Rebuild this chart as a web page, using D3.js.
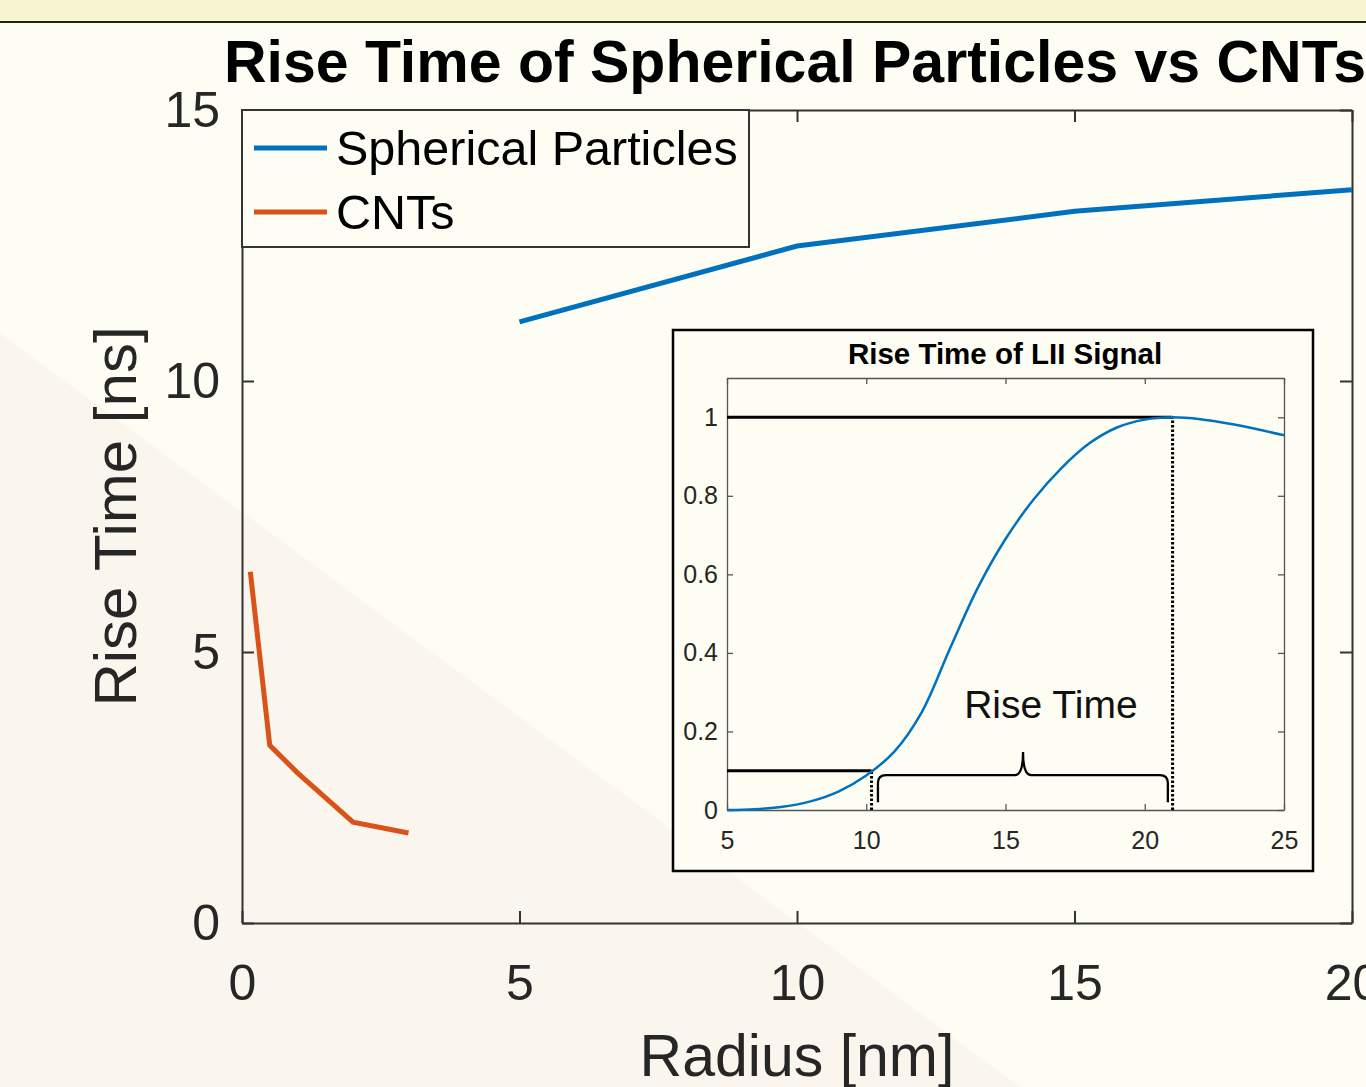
<!DOCTYPE html>
<html><head><meta charset="utf-8">
<script src="https://cdn.jsdelivr.net/npm/d3@7"></script>
<style>
body{margin:0;background:#fdfdf3;overflow:hidden;}
svg{display:block;font-family:"Liberation Sans",Arial,Helvetica,sans-serif;}
</style>
</head><body>
<svg id="c" width="1366" height="1087"></svg>
<script>
// ---- data ----
const spRadius = [5, 10, 15, 20];
const spRise   = [11.09, 12.49, 13.13, 13.53];
const cntRadius = [0.15, 0.5, 1, 2, 3];
const cntRise   = [6.48, 3.28, 2.77, 1.86, 1.66];
const mainXTicks = [0, 5, 10, 15, 20];
const mainYTicks = [0, 5, 10, 15];
const seriesNames = ["Spherical Particles", "CNTs"];

const insetTime   = [5, 6, 7, 8, 9, 10, 11, 12, 13, 14, 15, 16, 17, 18, 19, 20, 21, 22, 23, 24, 25];
const insetSignal = [0, 0.002, 0.008, 0.022, 0.047, 0.088, 0.148, 0.25, 0.41, 0.565, 0.69, 0.79, 0.87, 0.933, 0.974, 0.994, 1.0, 0.995, 0.984, 0.97, 0.954];
const insetXTicks = [5, 10, 15, 20, 25];
const insetYTicks = [0, 0.2, 0.4, 0.6, 0.8, 1];
const riseStart = [10.19, 0.1];   // time, level at 10%
const risePeak  = [21.0, 1.0];    // time, level at peak
const braceX = [10.42, 15.63, 20.83]; // left, tip, right
const braceY = [0.02, 0.089, 0.148];  // ends, bar, tip
const riseLabelPos = [16.63, 0.234];

const svg = d3.select("#c");

// ---- background ----
svg.append("rect").attr("width",1366).attr("height",1087).attr("fill","#fdfdf3");
svg.append("path").attr("d","M0,333 L1020,1087 L0,1087 Z").attr("fill","#faf6ee");
svg.append("rect").attr("width",1366).attr("height",21).attr("fill","#f8f3d1");
svg.append("line").attr("x1",0).attr("x2",1366).attr("y1",22).attr("y2",22).attr("stroke","#222").attr("stroke-width",2);

// ---- main plot ----
const L=242, R=1352, T=110, B=923;
const x = d3.scaleLinear().domain([0,20]).range([L,R]);
const y = d3.scaleLinear().domain([0,15]).range([B,T]);
const axCol = "#333";

function styleAxis(g, fs){
  g.selectAll(".domain").attr("stroke",axCol).attr("stroke-width",2);
  g.selectAll(".tick line").attr("stroke",axCol).attr("stroke-width",2);
  g.selectAll("text").attr("fill","#262626").attr("font-size",fs).attr("font-family","Liberation Sans, Arial, sans-serif");
}
let g;
g = svg.append("g").attr("transform",`translate(0,${B})`)
  .call(d3.axisBottom(x).tickValues(mainXTicks).tickSize(-12).tickSizeOuter(0).tickPadding(41));
styleAxis(g,50);
g = svg.append("g").attr("transform",`translate(0,${T})`)
  .call(d3.axisTop(x).tickValues(mainXTicks).tickSize(-12).tickSizeOuter(0).tickFormat(""));
styleAxis(g,50);
g = svg.append("g").attr("transform",`translate(${L},0)`)
  .call(d3.axisLeft(y).tickValues(mainYTicks).tickSize(-12).tickSizeOuter(0).tickPadding(22));
styleAxis(g,50);
g = svg.append("g").attr("transform",`translate(${R},0)`)
  .call(d3.axisRight(y).tickValues(mainYTicks).tickSize(-12).tickSizeOuter(0).tickFormat(""));
styleAxis(g,50);

const line = d3.line().x(d=>x(d[0])).y(d=>y(d[1]));
svg.append("path").datum(spRadius.map((r,i)=>[r,spRise[i]]))
  .attr("d",line).attr("fill","none").attr("stroke","#0072BD").attr("stroke-width",5);
svg.append("path").datum(cntRadius.map((r,i)=>[r,cntRise[i]]))
  .attr("d",line).attr("fill","none").attr("stroke","#D95319").attr("stroke-width",5);

// title & labels
svg.append("text").attr("x",795).attr("y",82).attr("text-anchor","middle")
  .attr("font-size",59).attr("font-weight","bold").attr("fill","#000")
  .text("Rise Time of Spherical Particles vs CNTs");
svg.append("text").attr("x",797).attr("y",1076).attr("text-anchor","middle")
  .attr("font-size",59).attr("fill","#262626").text("Radius [nm]");
svg.append("text").attr("transform",`translate(136,${(T+B)/2}) rotate(-90)`).attr("text-anchor","middle")
  .attr("font-size",60).attr("fill","#262626").text("Rise Time [ns]");

// legend
const lg = svg.append("g");
lg.append("rect").attr("x",242).attr("y",110).attr("width",507).attr("height",137)
  .attr("fill","#fdfdf3").attr("stroke",axCol).attr("stroke-width",2);
const legCols = ["#0072BD","#D95319"];
const legY = [148, 212];
seriesNames.forEach((n,i)=>{
  lg.append("line").attr("x1",254).attr("x2",327).attr("y1",legY[i]).attr("y2",legY[i])
    .attr("stroke",legCols[i]).attr("stroke-width",5);
  lg.append("text").attr("x",336).attr("y",legY[i]+17).attr("font-size",48.5).attr("fill","#000").text(n);
});

// ---- inset ----
svg.append("rect").attr("x",673).attr("y",330).attr("width",640).attr("height",541)
  .attr("fill","#fdfdf3").attr("stroke","#000").attr("stroke-width",2.5);
const iL=727, iR=1284, iT=378, iB=810;
const ix = d3.scaleLinear().domain([5,25]).range([iL,iR]);
const iy = d3.scaleLinear().domain([0,1.1]).range([iB,iT]);
function styleInset(g){
  g.selectAll(".domain").attr("stroke","#555").attr("stroke-width",1.3);
  g.selectAll(".tick line").attr("stroke","#555").attr("stroke-width",1.3);
  g.selectAll("text").attr("fill","#262626").attr("font-size",25).attr("font-family","Liberation Sans, Arial, sans-serif");
}
g = svg.append("g").attr("transform",`translate(0,${iB})`)
  .call(d3.axisBottom(ix).tickValues(insetXTicks).tickSize(-6).tickSizeOuter(0).tickPadding(21));
styleInset(g);
g = svg.append("g").attr("transform",`translate(0,${iT})`)
  .call(d3.axisTop(ix).tickValues(insetXTicks).tickSize(-6).tickSizeOuter(0).tickFormat(""));
styleInset(g);
g = svg.append("g").attr("transform",`translate(${iL},0)`)
  .call(d3.axisLeft(iy).tickValues(insetYTicks).tickSize(-6).tickSizeOuter(0).tickPadding(9).tickFormat(d3.format("~g")));
styleInset(g);
g = svg.append("g").attr("transform",`translate(${iR},0)`)
  .call(d3.axisRight(iy).tickValues(insetYTicks).tickSize(-6).tickSizeOuter(0).tickFormat(""));
styleInset(g);

svg.append("text").attr("x",1005).attr("y",364).attr("text-anchor","middle")
  .attr("font-size",29.5).attr("font-weight","bold").attr("fill","#000").text("Rise Time of LII Signal");

// reference lines
svg.append("line").attr("x1",ix(5)).attr("x2",ix(risePeak[0])).attr("y1",iy(risePeak[1])).attr("y2",iy(risePeak[1]))
  .attr("stroke","#000").attr("stroke-width",3);
svg.append("line").attr("x1",ix(5)).attr("x2",ix(riseStart[0])).attr("y1",iy(riseStart[1])).attr("y2",iy(riseStart[1]))
  .attr("stroke","#000").attr("stroke-width",3);
[riseStart, risePeak].forEach(p=>{
  svg.append("line").attr("x1",ix(p[0])).attr("x2",ix(p[0])).attr("y1",iy(0)).attr("y2",iy(p[1]))
    .attr("stroke","#000").attr("stroke-width",3).attr("stroke-dasharray","2.5,2");
});

// curve
const iline = d3.line().x(d=>ix(d[0])).y(d=>iy(d[1])).curve(d3.curveCatmullRom.alpha(0.5));
svg.append("path").datum(insetTime.map((t,i)=>[t,insetSignal[i]]))
  .attr("d",iline).attr("fill","none").attr("stroke","#0072BD").attr("stroke-width",2.5);

// brace
const bx0=ix(braceX[0]), bxm=ix(braceX[1]), bx1=ix(braceX[2]);
const by0=iy(braceY[0]), byb=iy(braceY[1]), byt=iy(braceY[2]);
const r=8;
const bracePath = `M${bx0},${by0} L${bx0},${byb+r} Q${bx0},${byb} ${bx0+r},${byb} L${bxm-r},${byb} Q${bxm},${byb} ${bxm},${byt}`
  + ` Q${bxm},${byb} ${bxm+r},${byb} L${bx1-r},${byb} Q${bx1},${byb} ${bx1},${byb+r} L${bx1},${by0}`;
svg.append("path").attr("d",bracePath).attr("fill","none").attr("stroke","#000").attr("stroke-width",2.3);

svg.append("text").attr("x",ix(riseLabelPos[0])).attr("y",iy(riseLabelPos[1])).attr("text-anchor","middle")
  .attr("font-size",39).attr("fill","#111").text("Rise Time");
</script>
</body></html>
